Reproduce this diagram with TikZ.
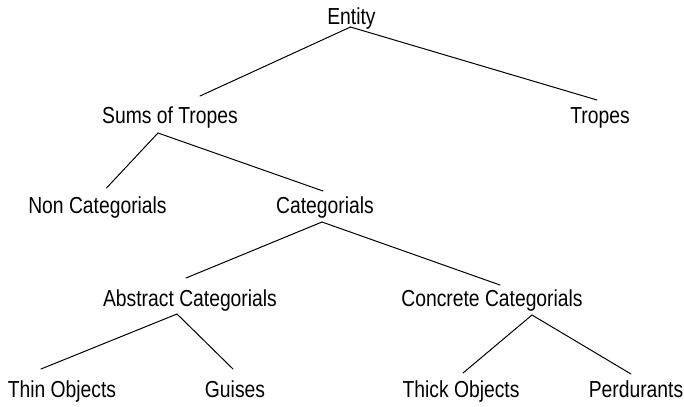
\documentclass[tikz,border=0pt]{standalone}
\usepackage{fontspec}
\setmainfont{Liberation Sans}
\begin{document}
\begin{tikzpicture}[x=1bp,y=-1bp,
  term/.style={inner sep=0pt,anchor=base,yscale=1.2,
    font=\fontsize{19.3bp}{23bp}\selectfont},
  branch/.style={line width=1bp,line cap=round}]
\useasboundingbox (0,0) rectangle (684,406);
% terms, placed by their baselines
\node[term] (entity) at (351.5,24) {Entity};
\node[term] (sums)   at (170,123) {Sums of Tropes};
\node[term] (tropes) at (600,123) {Tropes};
\node[term] (noncat) at (97.5,213) {Non Categorials};
\node[term] (cat)    at (325,213) {Categorials};
\node[term] (abs)    at (190,306) {Abstract Categorials};
\node[term] (conc)   at (492,306) {Concrete Categorials};
\node[term] (thin)   at (62,397) {Thin Objects};
\node[term] (guises) at (235,397) {Guises};
\node[term] (thick)  at (461,397) {Thick Objects};
\node[term] (perd)   at (636,397) {Perdurants};
% branches of the tree
\draw[branch] ([shift={(-1,3)}]entity.base) -- ([shift={(30,-27)}]sums.base);
\draw[branch] ([shift={(-1,3)}]entity.base) -- ([shift={(-3,-23)}]tropes.base);
\draw[branch] ([shift={(-12,10)}]sums.base) -- ([shift={(9,-25)}]noncat.base);
\draw[branch] ([shift={(-12,10)}]sums.base) -- ([shift={(-2,-22)}]cat.base);
\draw[branch] ([shift={(-3,9)}]cat.base) -- ([shift={(-4,-28)}]abs.base);
\draw[branch] ([shift={(-3,9)}]cat.base) -- ([shift={(8,-21)}]conc.base);
\draw[branch] ([shift={(-13,8)}]abs.base) -- ([shift={(-21,-28)}]thin.base);
\draw[branch] ([shift={(-13,8)}]abs.base) -- ([shift={(-2,-28)}]guises.base);
\draw[branch] ([shift={(40,9)}]conc.base) -- ([shift={(2,-24)}]thick.base);
\draw[branch] ([shift={(40,9)}]conc.base) -- ([shift={(-5,-23)}]perd.base);
\end{tikzpicture}
\end{document}
